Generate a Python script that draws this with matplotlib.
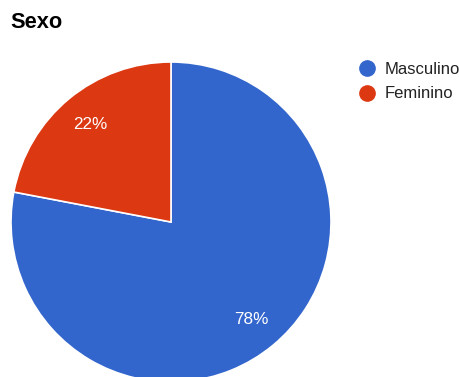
import matplotlib
matplotlib.use("Agg")
import matplotlib.pyplot as plt
from matplotlib.lines import Line2D

categories = ["Masculino", "Feminino"]
values = [78, 22]
colors = ["#3366CC", "#DC3912"]
title = "Sexo"

plt.rcParams['font.family'] = ['Liberation Sans', 'DejaVu Sans']

W, H = 460, 377
fig = plt.figure(figsize=(W / 100, H / 100), dpi=100)
cx, cy, r = 171, 222, 160
ax = fig.add_axes([(cx - r) / W, (H - cy - r) / H, 2 * r / W, 2 * r / H])
wedges, texts, autotexts = ax.pie(
    values, colors=colors, startangle=90, counterclock=False,
    autopct=lambda p: f"{p:.0f}%", pctdistance=0.79,
    wedgeprops=dict(edgecolor="white", linewidth=1.2),
    textprops=dict(color="white", fontsize=12.3),
)
ax.set_xlim(-1, 1)
ax.set_ylim(-1, 1)
ax.set_aspect("equal")
ax.axis("off")

fig.text(10 / W, 1 - 22 / H, title, fontsize=15.7, fontweight="bold",
         va="center", ha="left", color="black")

handles = [Line2D([], [], marker="o", linestyle="", markersize=11,
                  markerfacecolor=c, markeredgecolor=c) for c in colors]
fig.legend(handles, categories, loc="upper left",
           bbox_to_anchor=(350 / W, 1 - 54 / H), frameon=False,
           fontsize=12, handletextpad=0.55, labelspacing=0.55,
           handlelength=1.0, borderpad=0, labelcolor="#222222")

fig.savefig("out.png", dpi=100)
